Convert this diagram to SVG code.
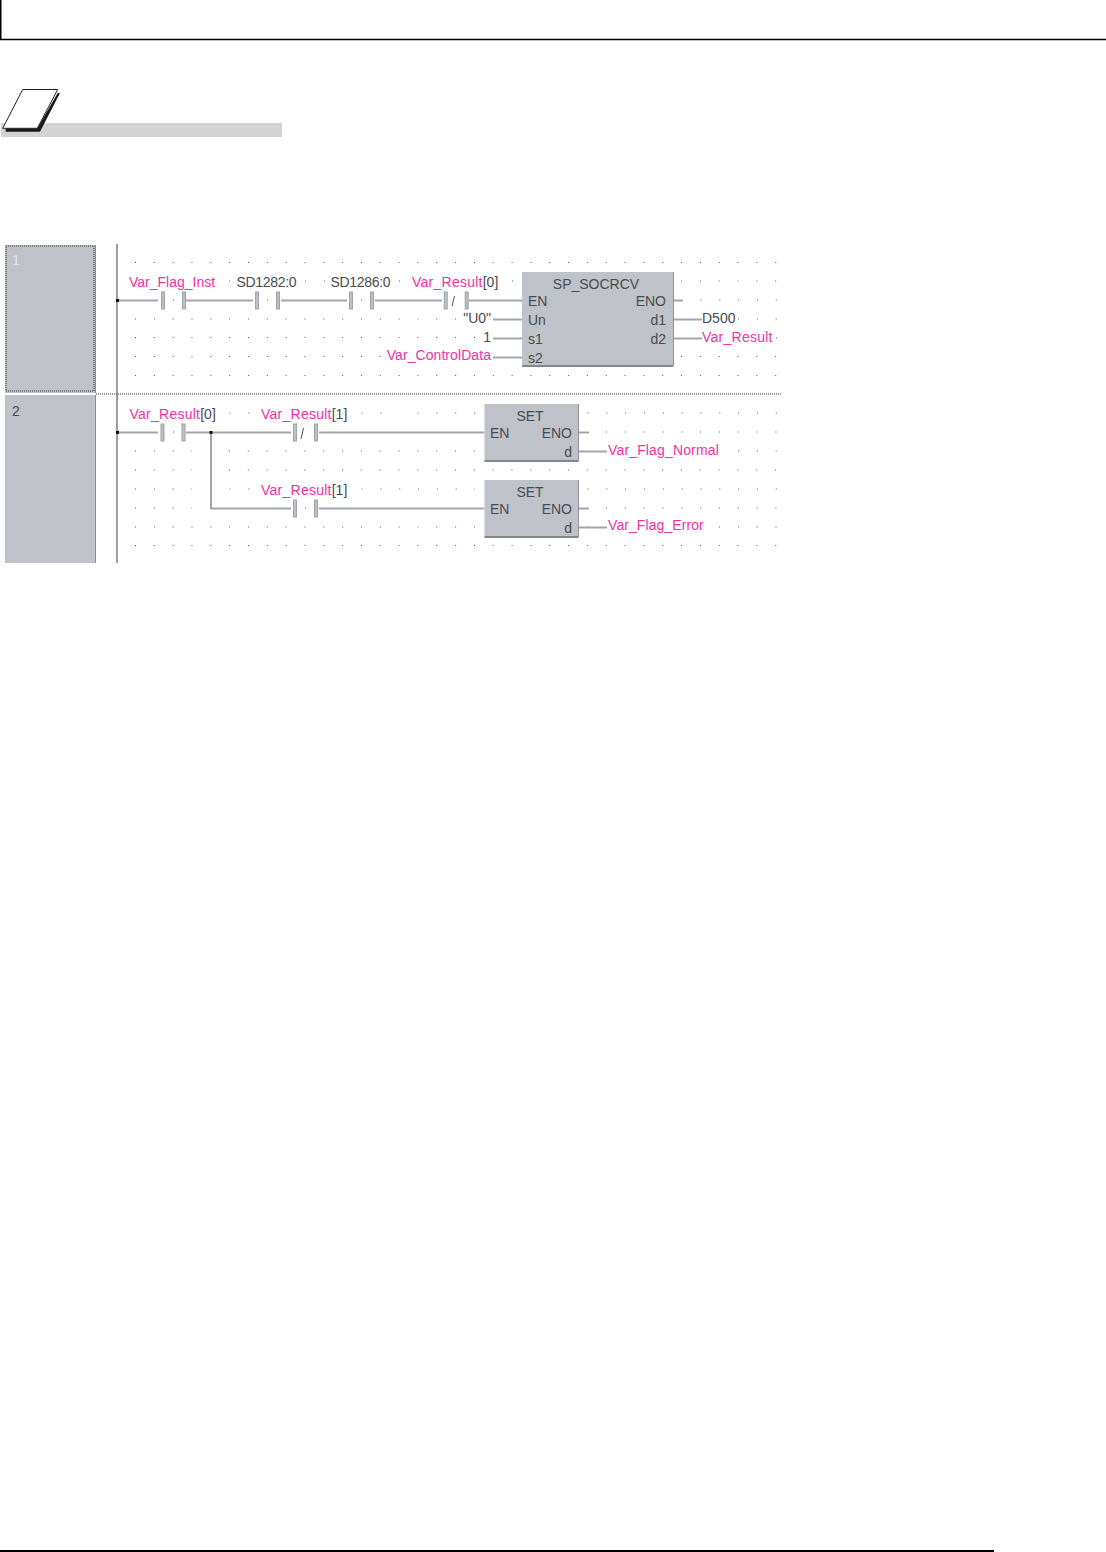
<svg xmlns="http://www.w3.org/2000/svg" width="1106" height="1552" viewBox="0 0 1106 1552">
<style>
text{font-family:"Liberation Sans",Arial,sans-serif;font-size:14px;fill:#4a4a4e}
.v{fill:#f231a5}
.r{letter-spacing:.25px}
.e{text-anchor:end}
.m{text-anchor:middle}
.d{stroke:#55585e;stroke-width:1;stroke-dasharray:1 17.83;fill:none}
.w{stroke:#a3a7ad;stroke-width:2;fill:none}
.c{fill:#bcc1c9;stroke:#9ea3aa;stroke-width:1}
.b{fill:#bfc2c9}
.s{stroke:#84878e;stroke-width:2;fill:none}
.t{stroke:#8f9299;stroke-width:1;fill:none}
.k{stroke:#000;fill:none}
</style>
<defs>
<g id="no"><rect class="c" x="-2.500" y="-8.500" width="3" height="17"/><rect class="c" x="18.500" y="-8.500" width="3" height="17"/></g>
</defs>
<g id="page-frame">
<path class="k" stroke-width="1.5" d="M.75 0V39.500H1106"/>
<path class="k" stroke-width="2" d="M0 1551H994"/>
</g>
<g id="note-icon">
<rect x="1" y="123" width="281" height="14" fill="#d3d3d3"/>
<path d="M57.700 93H60L40 131.700H5.700V128.300H37.300Z" fill="#1a1a1a"/>
<path d="M22.700 89.500H57.700L37.300 128.300H2.700Z" fill="#fff" stroke="#222" stroke-width="1"/>
</g>
<g id="grid-dots">
<path class="d" d="M135 262.500H778M135 375.500H778M135 319H456M135 337.500H475M135 356.500H381M135 451H192M135 470H192M135 489H192M135 508H192M135 527H600M135 545.500H778"/>
<path class="d" d="M229 281h1M305 281h20M399 281h1M512 281h1M681 281H778M173 300h1M267 300h1M361 300h1M700.500 300H778M738 319H778M776 338h1M681 356.500H778"/>
<path class="d" d="M229.500 413h20M361.500 413h20M417.500 413H475M587.500 413H778M173 432h1M606 432H778M229 451H475M738 451H778M229 470H778M229.500 489h20M361.500 489H475M587.500 489H778M305 508h1M606 508H778M719 527H778"/>
</g>
<g id="cells">
<rect id="cell-1" class="b" x="5" y="245" width="91" height="148"/>
<path d="M6 246H94V391H6Z" fill="none" stroke="#333" stroke-dasharray="1 1"/>
<rect id="cell-2" class="b" x="5" y="395" width="91" height="168"/>
<path d="M95.500 245V393M95.500 395V563" stroke="#888b92" fill="none"/>
<text x="12" y="265" style="fill:#e4e6ea">1</text>
<text x="12" y="416">2</text>
</g>
<g id="connectors">
<path stroke="#9a9ea8" stroke-width="2" fill="none" d="M117 244V563"/>
<path d="M96 394H781" stroke="#333" stroke-dasharray="1 1" fill="none"/>
<path class="w" d="M117 300.500H158M186 300.500H253M281 300.500H347M375 300.500H442M469 300.500H522M493 319.500H522M493 338.500H522M493 357.500H522M673 300.500H683M673 319.500H702M673 338.500H702M117 432.500H158M186 432.500H291M319 432.500H484M578 432.500H589M578 451.500H607M211 432.500V508.500H291M319 508.500H484M578 508.500H589M578 527.500H607"/>
<path d="M116 299h3v3h-3ZM116 431h3v3h-3ZM209.500 431h3v3h-3Z" fill="#111"/>
</g>
<g id="contact-flag-inst"><use href="#no" x="164" y="300.500"/><text class="v" x="129" y="287">Var_Flag_Inst</text></g>
<g id="contact-sd1282"><use href="#no" x="258" y="300.500"/><text x="236.500" y="287" textLength="60">SD1282:0</text></g>
<g id="contact-sd1286"><use href="#no" x="352" y="300.500"/><text x="330.500" y="287" textLength="60">SD1286:0</text></g>
<g id="contact-result0"><use href="#no" x="446.700" y="300.500"/><path d="M452 306L454.500 296" stroke="#555"/><text x="412" y="287"><tspan class="v r">Var_Result</tspan>[0]</text></g>
<g id="block-socrcv">
<rect x="522" y="272" width="151" height="94" class="b"/>
<path class="s" d="M522 366H673"/><path class="t" d="M673.500 272V366"/>
<text class="m" x="596" y="289">SP_SOCRCV</text>
<text x="528" y="306">EN</text><text class="e" x="666" y="306">ENO</text>
<text x="528" y="325">Un</text><text class="e" x="666" y="325">d1</text>
<text x="528" y="344">s1</text><text class="e" x="666" y="344">d2</text>
<text x="528" y="362.500">s2</text>
</g>
<g id="params">
<text class="e" x="491" y="323">"U0"</text>
<text class="e" x="491" y="342">1</text>
<text class="v e" x="491" y="360" letter-spacing=".07">Var_ControlData</text>
<text x="702" y="323">D500</text>
<text class="v r" x="702" y="342">Var_Result</text>
</g>
<g id="contact2-result0"><use href="#no" x="163.500" y="432.500"/><text x="129.500" y="419"><tspan class="v r">Var_Result</tspan>[0]</text></g>
<g id="contact2-result1n"><use href="#no" x="296" y="432.500"/><path d="M301 439L303.500 428" stroke="#555"/><text x="261" y="419"><tspan class="v r">Var_Result</tspan>[1]</text></g>
<g id="contact2-result1"><use href="#no" x="296" y="508.500"/><text x="261" y="495"><tspan class="v r">Var_Result</tspan>[1]</text></g>
<g id="block-set-1">
<rect x="484.500" y="404" width="94" height="57" class="b"/>
<path class="s" d="M484.500 461H578.500"/><path class="t" d="M578.500 404V461"/>
<text class="m" x="530" y="421">SET</text>
<text x="490" y="438">EN</text><text class="e" x="572" y="438">ENO</text><text class="e" x="572" y="457">d</text>
</g>
<text class="v" x="608" y="455" letter-spacing=".15">Var_Flag_Normal</text>
<g id="block-set-2">
<rect x="484.500" y="480" width="94" height="57" class="b"/>
<path class="s" d="M484.500 537H578.500"/><path class="t" d="M578.500 480V537"/>
<text class="m" x="530" y="497">SET</text>
<text x="490" y="514">EN</text><text class="e" x="572" y="514">ENO</text><text class="e" x="572" y="533">d</text>
</g>
<text class="v" x="608" y="530" letter-spacing=".08">Var_Flag_Error</text>
</svg>
